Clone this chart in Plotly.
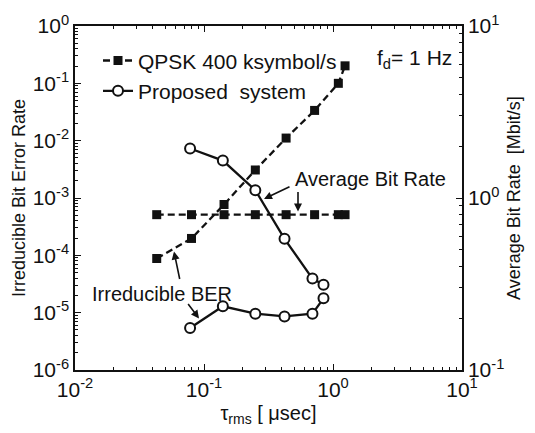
import plotly.graph_objects as go

# Delay spread values (microseconds)
tau_qpsk = [0.043, 0.080, 0.143, 0.250, 0.433, 0.72, 1.10, 1.24]
tau_prop = [0.078, 0.140, 0.250, 0.421, 0.693, 0.844]

# Irreducible BER (left axis)
ber_qpsk = [8.8e-5, 1.97e-4, 7.7e-4, 3.08e-3, 1.11e-2, 3.37e-2, 1.0e-1, 2.02e-1]
ber_prop = [5.4e-6, 1.29e-5, 9.6e-6, 8.6e-6, 9.6e-6, 1.78e-5]

# Average bit rate in Mbit/s (right axis)
rate_qpsk = [0.8] * len(tau_qpsk)
rate_prop = [1.94, 1.65, 1.11, 0.579, 0.340, 0.313]

x_ticks = [-2, -1, 0, 1]
x_ticktext = ["10<sup>-2</sup>", "10<sup>-1</sup>", "10<sup>0</sup>", "10<sup>1</sup>"]
y_ticks = [-6, -5, -4, -3, -2, -1, 0]
y_ticktext = ["10<sup>-6</sup>", "10<sup>-5</sup>", "10<sup>-4</sup>", "10<sup>-3</sup>",
              "10<sup>-2</sup>", "10<sup>-1</sup>", "10<sup>0</sup>"]
y2_ticks = [-1, 0, 1]
y2_ticktext = ["10<sup>-1</sup>", "10<sup>0</sup>", "10<sup>1</sup>"]

FONT = "Liberation Sans, Arial, sans-serif"
BLACK = "#111111"

dash = "7px,4px"
sq = dict(symbol="square", size=9, color=BLACK)
circ = dict(symbol="circle", size=10, color="white", line=dict(color=BLACK, width=2))

fig = go.Figure()
fig.add_trace(go.Scatter(x=tau_qpsk, y=ber_qpsk, mode="lines+markers",
                         name="QPSK 400 ksymbol/s",
                         line=dict(color=BLACK, width=2.3, dash=dash), marker=sq))
fig.add_trace(go.Scatter(x=tau_prop, y=rate_prop, mode="lines+markers",
                         name="Proposed  system", yaxis="y2",
                         line=dict(color=BLACK, width=2.3), marker=circ))
fig.add_trace(go.Scatter(x=tau_qpsk, y=rate_qpsk, mode="lines+markers", yaxis="y2",
                         showlegend=False,
                         line=dict(color=BLACK, width=2.3, dash=dash), marker=sq))
fig.add_trace(go.Scatter(x=tau_prop, y=ber_prop, mode="lines+markers",
                         showlegend=False,
                         line=dict(color=BLACK, width=2.3), marker=circ))

L, R, T, B = 75, 73, 15, 58
W, H = 535, 433
PW, PH = W - L - R, H - T - B


def px(x):
    return (x - L) / PW


def py(y):
    return 1 - (y - T) / PH


annotations = [
    dict(x=px(370), y=py(175), text="Average Bit Rate", showarrow=False,
         font=dict(size=20)),
    dict(x=px(162), y=py(295), text="Irreducible BER", showarrow=False,
         font=dict(size=20)),
    dict(x=px(414), y=py(50), text="f<sub>d</sub>= 1 Hz", showarrow=False,
         font=dict(size=21)),
    # arrows
    dict(x=px(264), y=py(196), ax=27, ay=-13, text="", showarrow=True),
    dict(x=px(298), y=py(209), ax=0, ay=-21, text="", showarrow=True),
    dict(x=px(174), y=py(251), ax=6, ay=29, text="", showarrow=True),
    dict(x=px(199), y=py(321), ax=-12, ay=-16, text="", showarrow=True),
]
for a in annotations:
    a.update(xref="paper", yref="paper", xanchor="center", yanchor="middle")
    if a.get("showarrow"):
        a.update(arrowhead=2, arrowsize=1, arrowwidth=1.6, arrowcolor=BLACK)

axis_common = dict(showgrid=False, zeroline=False, linecolor=BLACK, linewidth=1.5,
                   ticks="inside", ticklen=6, tickcolor=BLACK,
                   tickfont=dict(size=21, color=BLACK))

fig.update_layout(
    width=W, height=H,
    margin=dict(l=L, r=R, t=T, b=B),
    paper_bgcolor="white", plot_bgcolor="white",
    font=dict(family=FONT, color=BLACK),
    showlegend=True,
    legend=dict(x=px(98), y=py(30), xanchor="left", yanchor="top",
                bgcolor="rgba(0,0,0,0)", font=dict(size=21), tracegroupgap=0),
    xaxis=dict(type="log", range=[-2, 1], tickvals=[10 ** v for v in x_ticks],
               ticktext=x_ticktext, mirror="ticks", showline=True,
               minor=dict(ticks="inside", ticklen=3, tickcolor=BLACK, dtick="D1"),
               title=dict(text="τ<sub>rms</sub> [ μsec]", font=dict(size=20), standoff=6),
               **axis_common),
    yaxis=dict(type="log", range=[-6, 0], tickvals=[10 ** v for v in y_ticks],
               ticktext=y_ticktext, showline=True, mirror=False,
               minor=dict(ticks="inside", ticklen=3, tickcolor=BLACK, dtick="D1"),
               title=dict(text="Irreducible Bit Error Rate", font=dict(size=18), standoff=2),
               **axis_common),
    yaxis2=dict(type="log", range=[-1, 1], overlaying="y", side="right",
                tickvals=[10 ** v for v in y2_ticks], ticktext=y2_ticktext,
                showline=True,
                minor=dict(ticks="inside", ticklen=3, tickcolor=BLACK, dtick="D1"),
                title=dict(text="Average Bit Rate  [Mbit/s]", font=dict(size=18), standoff=4),
                **axis_common),
    annotations=annotations,
)

fig.write_html("out.html")
